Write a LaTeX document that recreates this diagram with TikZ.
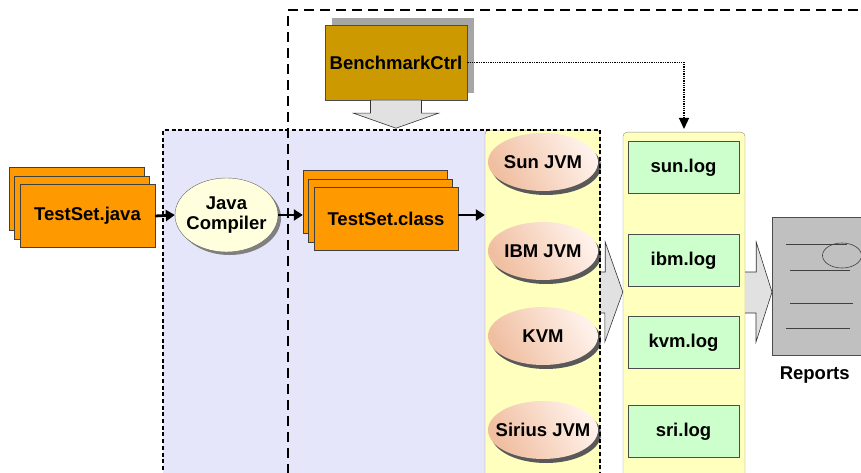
\documentclass[tikz,border=0pt]{standalone}
\usepackage{fontspec}
\setmainfont{Liberation Sans}
\usetikzlibrary{positioning, arrows.meta, shapes, shadows}

\definecolor{fileorange}{RGB}{255,153,0}
\definecolor{ctrlgold}{RGB}{204,153,0}
\definecolor{lavender}{RGB}{230,230,250}
\definecolor{colyellow}{RGB}{255,255,190}
\definecolor{loggreen}{RGB}{204,255,204}
\definecolor{jvmpeach}{RGB}{240,190,160}
\definecolor{jvmlight}{RGB}{255,242,235}
\definecolor{jccream}{RGB}{255,255,222}
\definecolor{arrowgray}{RGB}{225,225,225}
\definecolor{docgray}{RGB}{192,192,192}

\begin{document}
\begin{tikzpicture}[x=1pt, y=-1pt,
    font=\fontsize{18.5}{20}\selectfont\bfseries,
    stack/.style={rectangle, draw=black!75, fill=fileorange, minimum height=63pt, inner sep=0pt,
        general shadow={shadow xshift=-11pt, shadow yshift=17pt, draw=black!75, fill=fileorange},
        general shadow={shadow xshift=-5.5pt, shadow yshift=8.5pt, draw=black!75, fill=fileorange}},
    column/.style={rectangle, rounded corners=4pt, draw=black!45, fill=colyellow, anchor=north, minimum height=360pt},
    jvm/.style={ellipse, minimum width=110pt, minimum height=58pt, inner xsep=-9pt, inner ysep=0pt,
        left color=jvmpeach, right color=jvmlight, shading angle=120,
        drop shadow={shadow xshift=3pt, shadow yshift=-4pt, fill=black!65, opacity=1}},
    log/.style={rectangle, draw=black!70, fill=loggreen, minimum width=111pt, minimum height=52pt},
    flow/.style={-{Triangle[length=9pt, width=11pt]}, line width=2.8pt},
    block/.style={draw=black!80, fill=arrowgray, line width=0.6pt},
    docline/.style={draw=black!75, line width=0.6pt}]

    \useasboundingbox (0,0) rectangle (861,473);

    % lavender area of the compile/run stage
    \fill[lavender] (163,130) rectangle (600,490);

    % sources and compiler
    \node[stack, minimum width=135pt] (JAVA) at (87.5,216) {TestSet.java};
    \node[ellipse, draw=black!60, fill=jccream, minimum width=103pt, minimum height=74pt, inner xsep=-5pt, inner ysep=0pt, align=center,
        drop shadow={shadow xshift=3pt, shadow yshift=-3pt, fill=black!50, opacity=1}] (JC) at (226.5,215) {Java\\Compiler};
    \node[stack, minimum width=144pt] (CLASS) at (386,219) {TestSet.class};

    % controller
    \node[rectangle, draw=black!70, fill=ctrlgold, minimum width=142pt, minimum height=75pt,
        general shadow={shadow xshift=7pt, shadow yshift=7pt, fill=black!35}] (BC) at (396,62.5) {BenchmarkCtrl};
    \filldraw[block] ([xshift=-25.5pt]BC.south) -- ++(0,13) -- ++(-17,0) -- ++(42.5,15) -- ++(42.5,-15) -- ++(-17,0) -- ++(0,-13) -- cycle;

    % JVMs and logs
    \node[column, minimum width=115pt] (JVMS) at (542.5,130) {};
    \node[column, minimum width=122pt] (LOGS) at (684,132) {};

    \filldraw[block] (JVMS.east |- 0,272) -- ++(5,0) -- ++(0,-30) -- (LOGS.west |- 0,292) -- ++(-18,50) -- ++(0,-29) -- ++(-5,0);

    \node[jvm] (SUN) at (543,162) {Sun JVM};
    \node[jvm] (IBM) at (543,251) {IBM JVM};
    \node[jvm] (KVM) at (543,336) {KVM};
    \node[jvm] (SRI) at (543,430) {Sirius JVM};

    \node[log] (SUNLOG) at (683.5,167.5) {sun.log};
    \node[log] (IBMLOG) at (683.5,260.5) {ibm.log};
    \node[log] (KVMLOG) at (683.5,342.5) {kvm.log};
    \node[log] (SRILOG) at (683.5,431.5) {sri.log};

    % report
    \node[rectangle, draw=black!70, fill=docgray, anchor=north west, minimum width=105pt, minimum height=138pt] (REP) at (772,217) {};
    \begin{scope}[shift={(REP.north west)}]
        \draw[docline] (14,27) -- (75,27);
        \draw[docline] (18,53) -- (78,53);
        \draw[docline] (18,86) -- (81,86);
        \draw[docline] (14,111) -- (78,111);
        \draw[docline] (70,38.5) ellipse (19.5 and 12.5);
    \end{scope}
    \node[below=8pt of REP.south, xshift=-10pt] (REPL) {Reports};
    \filldraw[block] (LOGS.east |- 0,272) -- ++(11,0) -- ++(0,-30) -- (REP.west |- 0,292) -- ++(-16,50) -- ++(0,-29) -- ++(-11,0);

    % frames
    \draw[line width=1.8pt, dash pattern=on 4pt off 2.7pt] (163,490) -- (163,130) -- (600,130) -- (600,490);
    \draw[line width=1.8pt, dash pattern=on 10pt off 6pt] (288,490) -- (288,10) -- (870,10);

    % flow
    \draw[flow] (JAVA.east) -- (JC.west);
    \draw[flow, shorten >=11pt] (JC.east) -- (JC.east -| CLASS.west);
    \draw[flow] (CLASS.east |- JC.east) -- (JC.east -| JVMS.west);
    \draw[densely dotted, line width=1.3pt, shorten >=3pt, -{Triangle[length=11pt, width=10pt]}] (BC.east) -| (LOGS.north);
\end{tikzpicture}
\end{document}
